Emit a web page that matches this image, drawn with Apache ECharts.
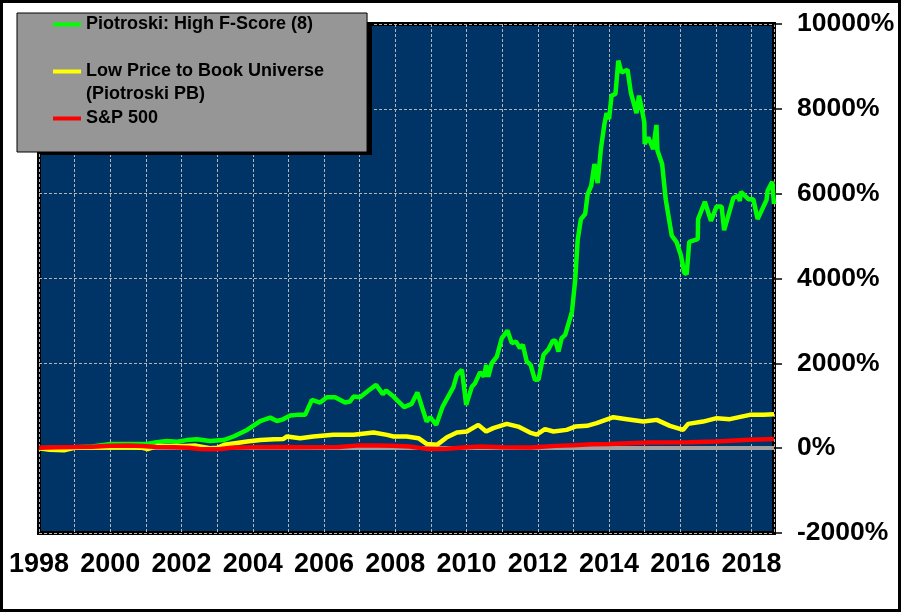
<!DOCTYPE html>
<html>
<head>
<meta charset="utf-8">
<script src="https://cdn.jsdelivr.net/npm/echarts@6/dist/echarts.min.js"></script>
<style>
  html, body { margin: 0; padding: 0; background: #fff; }
  #main { width: 901px; height: 612px; }
</style>
</head>
<body>
<div id="main"></div>
<script>
// series names
var seriesNames = ['Piotroski: High F-Score (8)', 'Low Price to Book Universe\n(Piotroski PB)', 'S&P 500'];

// cumulative return, % : [year, value]
var fScoreData = [
  [1998.0, 0], [1998.5, 10], [1999.0, 20], [1999.5, 40], [2000.0, 100], [2000.5, 100],
  [2001.03, 100], [2001.3, 140], [2001.59, 170], [2001.87, 150], [2002.15, 190], [2002.43, 210],
  [2002.8, 170], [2003.18, 190], [2003.46, 275], [2003.84, 430], [2004.21, 640], [2004.49, 720],
  [2004.68, 640], [2004.85, 680], [2005.05, 770], [2005.24, 785], [2005.47, 785], [2005.66, 1139],
  [2005.89, 1075], [2006.08, 1200], [2006.31, 1200], [2006.59, 1075], [2006.73, 1100], [2006.83, 1217],
  [2007.01, 1200], [2007.25, 1359], [2007.46, 1493], [2007.65, 1273], [2007.74, 1359], [2007.95, 1217],
  [2008.25, 967], [2008.46, 1045], [2008.62, 1311], [2008.88, 627], [2008.98, 731], [2009.15, 549],
  [2009.33, 981], [2009.63, 1438], [2009.73, 1728], [2009.87, 1850], [2009.99, 1021], [2010.15, 1450],
  [2010.24, 1533], [2010.38, 1790], [2010.49, 1688], [2010.55, 1964], [2010.61, 1688], [2010.71, 2004],
  [2010.85, 2160], [2010.99, 2594], [2011.15, 2773], [2011.27, 2476], [2011.39, 2514], [2011.5, 2358],
  [2011.58, 2436], [2011.69, 2042], [2011.8, 1964], [2011.92, 1610], [2012.02, 1620], [2012.16, 2200],
  [2012.3, 2334], [2012.42, 2530], [2012.49, 2540], [2012.58, 2278], [2012.67, 2594], [2012.77, 2672],
  [2012.96, 3221], [2013.05, 3969], [2013.12, 4912], [2013.21, 5400], [2013.33, 5520], [2013.4, 5990],
  [2013.5, 6190], [2013.59, 6700], [2013.68, 6250], [2013.77, 7050], [2013.87, 7640], [2013.93, 7900],
  [2014.0, 7760], [2014.07, 8310], [2014.18, 8350], [2014.26, 9135], [2014.35, 8860], [2014.52, 8920],
  [2014.61, 8390], [2014.77, 7900], [2014.84, 8310], [2014.91, 8035], [2014.99, 7680], [2015.0, 7170],
  [2015.1, 7330], [2015.24, 7050], [2015.33, 7620], [2015.36, 7010], [2015.49, 6700], [2015.59, 5870],
  [2015.76, 5010], [2015.9, 4850], [2016.02, 4535], [2016.11, 4140], [2016.18, 4100], [2016.25, 4865],
  [2016.49, 4930], [2016.5, 5400], [2016.69, 5810], [2016.86, 5360], [2017.02, 5700], [2017.16, 5700],
  [2017.23, 5140], [2017.49, 5900], [2017.63, 5950], [2017.67, 5825], [2017.7, 6045], [2017.91, 5870],
  [2018.05, 5870], [2018.17, 5400], [2018.42, 5850], [2018.45, 6070], [2018.58, 6280], [2018.63, 5755]
];

var lowPbData = [
  [1998.0, 0], [1998.3, -40], [1998.7, -50], [1999.0, 10], [1999.5, 15], [2000.0, 20],
  [2000.5, 15], [2000.9, 10], [2001.05, -20], [2001.3, 50], [2001.7, 50], [2002.1, 50],
  [2002.4, 60], [2002.8, 0], [2003.0, 10], [2003.2, 80], [2003.6, 130], [2003.84, 155],
  [2004.21, 190], [2004.6, 210], [2004.85, 215], [2004.96, 275], [2005.33, 236], [2005.7, 275],
  [2006.26, 314], [2006.83, 314], [2007.39, 368], [2007.77, 314], [2007.95, 275], [2008.32, 275],
  [2008.65, 236], [2008.88, 101], [2009.17, 78], [2009.45, 259], [2009.73, 370], [2010.01, 392],
  [2010.33, 549], [2010.55, 392], [2010.75, 472], [2011.13, 573], [2011.45, 509], [2011.78, 368],
  [2011.97, 320], [2012.2, 448], [2012.44, 392], [2012.81, 431], [2013.05, 509], [2013.38, 526],
  [2013.65, 589], [2014.12, 731], [2014.5, 684], [2014.96, 627], [2015.34, 667], [2015.71, 526],
  [2016.08, 431], [2016.22, 573], [2016.64, 627], [2017.02, 707], [2017.39, 684], [2017.95, 785],
  [2018.33, 785], [2018.63, 801]
];

var sp500Data = [
  [1998.0, 10], [1998.5, 20], [1999.0, 25], [1999.5, 35], [2000.0, 55], [2000.5, 60],
  [2000.9, 50], [2001.3, 25], [2001.8, 20], [2002.2, 10], [2002.5, -20], [2002.8, -25],
  [2003.1, -20], [2003.4, 10], [2004.0, 20], [2004.8, 25], [2005.5, 24], [2006.4, 30],
  [2006.9, 60], [2007.5, 62], [2007.95, 58], [2008.4, 40], [2008.88, -17], [2009.2, -20],
  [2009.45, -15], [2010.0, 24], [2010.4, 40], [2011.0, 20], [2011.8, 15], [2012.5, 54],
  [2013.0, 70], [2013.5, 90], [2014.0, 101], [2015.1, 132], [2016.26, 141], [2017.0, 156],
  [2017.95, 196], [2018.63, 219]
];

var yearMin = 1998, yearMax = 2018.63;
var pctMin = -2000, pctMax = 10000, pctStep = 2000;

var myChart = echarts.init(document.getElementById('main'));

var gridLine = { show: true, lineStyle: { color: '#b4b4b4', width: 1, type: [3, 2] } };

option = {
  animation: false,
  backgroundColor: '#ffffff',
  textStyle: { fontFamily: 'Liberation Sans, Arial, sans-serif' },
  grid: {
    left: 39, right: 127, top: 24, bottom: 79,
    show: true,
    backgroundColor: '#003366',
    borderColor: '#000000',
    borderWidth: 4
  },
  legend: {
    orient: 'vertical',
    left: 17, top: 13, z: 7,
    padding: [0, 43, 22, 36],
    itemGap: 1,
    itemWidth: 28,
    itemHeight: 4,
    icon: 'rect',
    backgroundColor: '#969696',
    borderColor: '#000000',
    borderWidth: 1,
    textStyle: { fontSize: 18, fontWeight: 'bold', color: '#000', lineHeight: 23 },
    // blank first line keeps the icon level with the first line of a two-line name
    formatter: function (name) { return name.indexOf('\n') >= 0 ? '\n' + name : name; },
    data: seriesNames
  },
  graphic: [
    // legend drop shadow, clipped to the plot area
    { type: 'rect', z: 6, shape: { x: 40, y: 23, width: 332, height: 132 }, style: { fill: '#000' } },
    // outer frame
    { type: 'rect', z: 100, shape: { x: 1.5, y: 1.5, width: 898, height: 609 }, style: { fill: 'none', stroke: '#000', lineWidth: 3 } }
  ],
  xAxis: {
    type: 'value',
    min: yearMin, max: yearMax, interval: 1,
    axisLine: { show: false },
    axisTick: { show: false },
    splitLine: gridLine,
    axisLabel: {
      margin: 18,
      color: '#000', fontSize: 27, fontWeight: 'bold',
      formatter: function (v) { return (Number.isInteger(v) && v % 2 === 0) ? String(v) : ''; }
    }
  },
  yAxis: {
    type: 'value',
    position: 'right',
    min: pctMin, max: pctMax, interval: pctStep,
    axisLine: { show: false },
    axisTick: { show: true, length: 8, lineStyle: { color: '#000', width: 1.5 } },
    splitLine: gridLine,
    axisLabel: {
      margin: 23,
      color: '#000', fontSize: 26.5, fontWeight: 'bold',
      formatter: function (v) { return v + '%'; }
    }
  },
  series: [
    {
      name: seriesNames[0], type: 'line', z: 3,
      data: fScoreData, symbol: 'none',
      lineStyle: { color: '#00ff00', width: 4.5 }, itemStyle: { color: '#00ff00' },
      markLine: {
        z: 2, silent: true, symbol: 'none', label: { show: false },
        lineStyle: { color: '#a0a0a0', width: 4, type: 'solid' },
        data: [{ yAxis: 0 }]
      }
    },
    {
      name: seriesNames[1], type: 'line', z: 4,
      data: lowPbData, symbol: 'none',
      lineStyle: { color: '#ffff00', width: 4.5 }, itemStyle: { color: '#ffff00' }
    },
    {
      name: seriesNames[2], type: 'line', z: 5,
      data: sp500Data, symbol: 'none',
      lineStyle: { color: '#ff0000', width: 4.5 }, itemStyle: { color: '#ff0000' }
    }
  ]
};

myChart.setOption(option);
</script>
</body>
</html>
